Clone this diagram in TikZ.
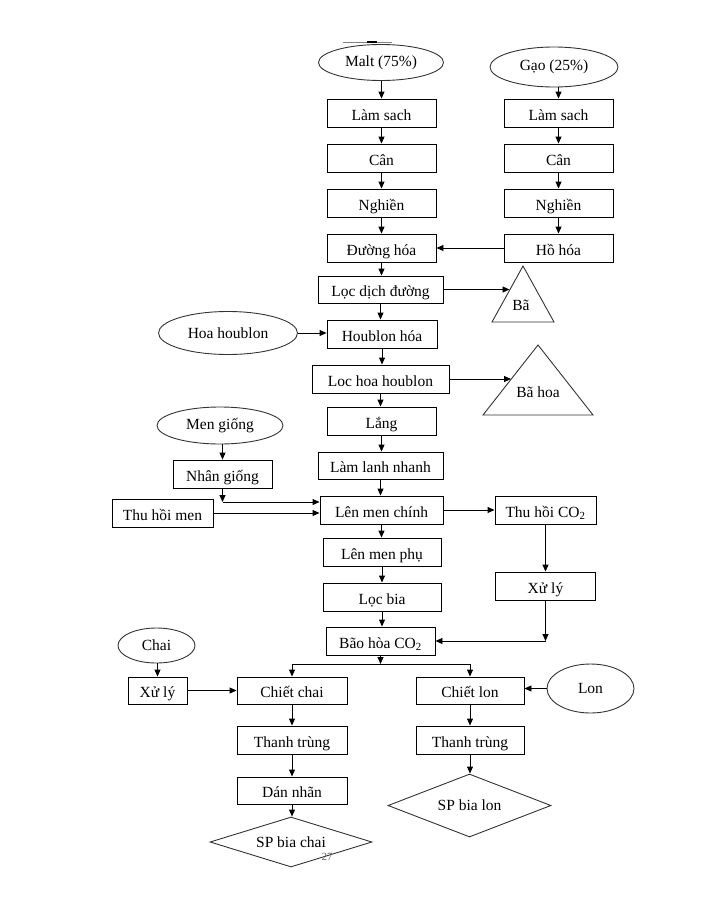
\documentclass[tikz,border=0pt]{standalone}
\usepackage{fontspec}
\setmainfont{Liberation Serif}
\usetikzlibrary{shapes.geometric,arrows.meta,calc}
\begin{document}
\begin{tikzpicture}[x=1pt,y=-1pt,
  every node/.style={font=\fontsize{15.5}{18}\selectfont, inner sep=0pt},
  box/.style={draw, line width=0.9pt, rectangle, minimum height=28pt, text height=14pt, text depth=0pt},
  oval/.style={draw, line width=0.9pt, ellipse, draw=black!80},
  dmd/.style={draw, line width=0.9pt, diamond, draw=black!80},
  arr/.style={-{Triangle[length=7pt,width=6pt]}, line width=0.9pt},
  ln/.style={line width=0.9pt, draw=black!80}]
\useasboundingbox (0,0) rectangle (726,899);

% stray mark at top
\draw[black!50, line width=0.8pt] (343,42) -- (392,42);
\draw[line width=1.6pt] (367,42) -- (377,42);

% main column
\node[oval, minimum width=125pt, minimum height=36pt] (malt) at (381,62.5) {Malt (75\%)};
\node[box, minimum width=109pt] (m1) at (381.5,113) {Làm sach};
\node[box, minimum width=109pt] (m2) at (381.5,158) {Cân};
\node[box, minimum width=109pt] (m3) at (381.5,203) {Nghiền};
\node[box, minimum width=109pt] (m4) at (381.5,248) {Đường hóa};
\node[box, minimum width=125pt, minimum height=27pt] (m5) at (380.5,289.5) {Lọc dịch đường};
\node[box, minimum width=110pt] (m6) at (382,334) {Houblon hóa};
\node[box, minimum width=137pt] (m7) at (380.5,379) {Loc hoa houblon};
\node[box, minimum width=109pt] (m8) at (381.5,421) {Lắng};
\node[box, minimum width=125pt, minimum height=27pt] (m9) at (380.5,465.5) {Làm lanh nhanh};
\node[box, minimum width=123pt] (m10) at (381.5,510) {Lên men chính};
\node[box, minimum width=118pt] (m11) at (382,552) {Lên men phụ};
\node[box, minimum width=118pt] (m12) at (382,597) {Lọc bia};
\node[box, minimum width=109pt] (m13) at (380.5,641) {Bão hòa CO\textsubscript{2}};

% right column
\node[oval, minimum width=128pt, minimum height=40pt] (g0) at (554,67) {Gạo (25\%)};
\node[box, minimum width=109pt] (g1) at (558.5,113) {Làm sach};
\node[box, minimum width=109pt] (g2) at (558.5,158) {Cân};
\node[box, minimum width=109pt] (g3) at (558.5,203) {Nghiền};
\node[box, minimum width=109pt] (g4) at (558.5,248) {Hồ hóa};

% waste triangles
\draw[ln] (523,266) -- (554,322) -- (492,322) -- cycle;
\node (ba) at (521,305) {Bã};
\coordinate (bain) at (509.5,289.5);
\draw[ln] (538,345) -- (593,415) -- (483,415) -- cycle;
\node (bahoa) at (538,392) {Bã hoa};
\coordinate (bahoain) at (511,379);

% side inputs
\node[oval, minimum width=139pt, minimum height=43pt] (hoa) at (228,333) {Hoa houblon};
\node[oval, minimum width=126pt, minimum height=37pt] (mg) at (220,425.5) {Men giống};
\node[box, minimum width=99pt] (ng) at (222.5,474) {Nhân giống};
\node[box, minimum width=101pt] (thm) at (162.5,513) {Thu hồi men};
\node[box, minimum width=101pt] (tco) at (545.5,510) {Thu hồi CO\textsubscript{2}};
\node[box, minimum width=100pt] (xl2) at (545.5,586) {Xử lý};

% bottle branch
\node[oval, minimum width=77pt, minimum height=35pt] (chai) at (156.5,645.5) {Chai};
\node[box, minimum width=59pt, minimum height=27pt] (xl1) at (157.5,690.5) {Xử lý};
\node[box, minimum width=110pt, minimum height=27pt] (cc) at (292,690.5) {Chiết chai};
\node[box, minimum width=110pt] (tt1) at (292,740) {Thanh trùng};
\node[box, minimum width=110pt, minimum height=27pt] (dn) at (292,790.5) {Dán nhãn};
\node[dmd, aspect=3.2, minimum width=162pt, minimum height=50pt] (spc) at (291,842) {SP bia chai};

% can branch
\node[box, minimum width=108pt, minimum height=27pt] (cl) at (470,690.5) {Chiết lon};
\node[oval, minimum width=87pt, minimum height=49pt] (lon) at (590.5,688.5) {Lon};
\node[box, minimum width=108pt] (tt2) at (470,740) {Thanh trùng};
\node[dmd, aspect=2.6, minimum width=163pt, minimum height=63pt] (spl) at (469.5,805.5) {SP bia lon};

\node[font=\fontsize{11}{12}\selectfont, text=black!60] (pg) at (327,857) {27};

% connectors main column
\draw[arr] (malt.south -| m1.north) -- (m1.north);
\foreach \a/\b in {m1/m2,m2/m3,m3/m4,m4/m5,m5/m6,m6/m7,m7/m8,m8/m9,m9/m10,m10/m11,m11/m12,m12/m13}
  \draw[arr] (\a.south) -- (\a.south |- \b.north);
\draw[arr] (g0.south -| g1.north) -- (g1.north);
\foreach \a/\b in {g1/g2,g2/g3,g3/g4}
  \draw[arr] (\a.south) -- (\b.north);
\draw[arr] (g4.west) -- (m4.east);
\draw[arr] (m5.east) -- (bain);
\draw[arr] (m7.east) -- (bahoain);
\draw[arr] (hoa.east) -- (hoa.east -| m6.west);

% yeast
\draw[arr] (mg.south -| ng.north) -- (ng.north);
\coordinate (c1) at (222.5,502);
\draw[arr] (ng.south) -- (c1);
\draw[arr] (c1) -- (c1 -| m10.west);
\draw[arr] (thm.east) -- (thm.east -| m10.west);

% CO2
\draw[arr] (m10.east) -- (tco.west);
\draw[arr] (tco.south) -- (xl2.north);
\coordinate (c2) at (545.5,641);
\draw[arr] (xl2.south) -- (c2);
\draw[arr] (c2) -- (m13.east);

% split
\coordinate (c3) at (380.5,664);
\draw[arr] (m13.south) -- (c3);
\draw[arr] (c3) -| (cc.north);
\draw[arr] (c3) -| (cl.north);

% bottle line
\draw[arr] (chai.south -| xl1.north) -- (xl1.north);
\draw[arr] (xl1.east) -- (cc.west);
\draw[arr] (cc.south) -- (tt1.north);
\draw[arr] (tt1.south) -- (dn.north);
\draw[arr] (dn.south) -- (dn.south |- spc.north);

% can line
\draw[arr] (lon.west) -- (lon.west -| cl.east);
\draw[arr] (cl.south) -- (tt2.north);
\draw[arr] (tt2.south) -- (tt2.south |- spl.north);
\end{tikzpicture}
\end{document}
